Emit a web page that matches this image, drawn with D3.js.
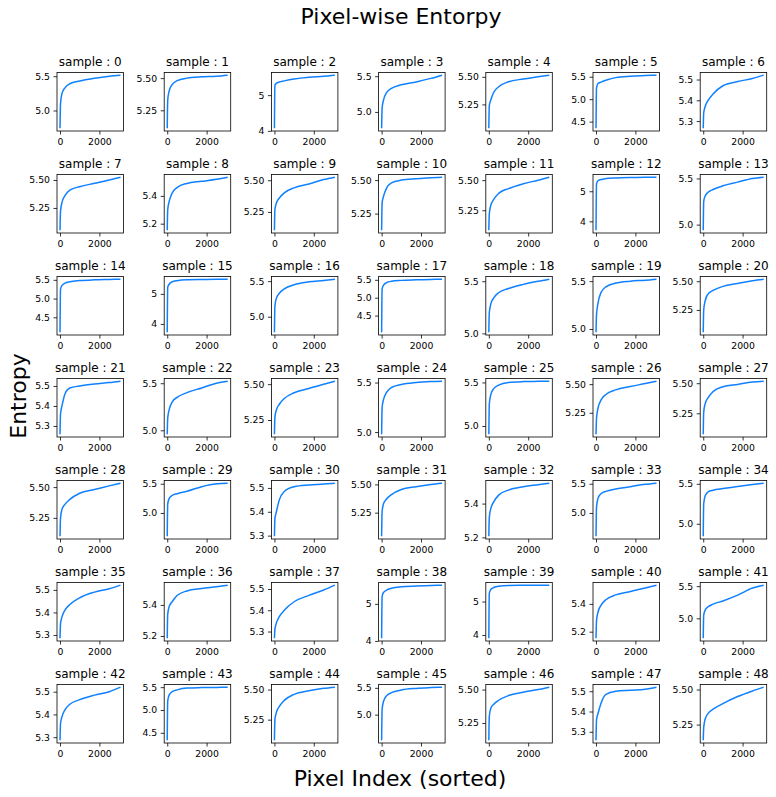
<!DOCTYPE html>
<html>
<head>
<meta charset="utf-8">
<script src="https://cdn.jsdelivr.net/npm/d3@7"></script>
<style>
  html, body { margin: 0; padding: 0; background: #fff; }
  text { font-family: "DejaVu Sans", sans-serif; }
</style>
</head>
<body>
<div id="chart"></div>
<script>
// ---- data ----
const nPixels = 3072;
const xIndex = [0, 25, 100, 250, 500, 1000, 1750, 2500, 3071];
const xTicks = [0, 2000];
const sampleIds = d3.range(49);

const entropy = [
  [4.74, 5.10, 5.25, 5.33, 5.39, 5.43, 5.47, 5.50, 5.515],
  [5.11, 5.33, 5.40, 5.45, 5.48, 5.50, 5.51, 5.515, 5.523],
  [4.07, 5.28, 5.33, 5.37, 5.40, 5.45, 5.50, 5.53, 5.56],
  [4.77, 5.05, 5.17, 5.27, 5.33, 5.38, 5.42, 5.47, 5.515],
  [5.033, 5.24, 5.29, 5.36, 5.41, 5.455, 5.48, 5.50, 5.515],
  [4.35, 5.25, 5.35, 5.38, 5.42, 5.48, 5.51, 5.525, 5.535],
  [5.265, 5.34, 5.37, 5.40, 5.43, 5.47, 5.49, 5.505, 5.521],
  [5.05, 5.22, 5.30, 5.36, 5.41, 5.44, 5.47, 5.50, 5.525],
  [5.152, 5.30, 5.36, 5.42, 5.46, 5.49, 5.505, 5.52, 5.535],
  [5.105, 5.27, 5.32, 5.36, 5.40, 5.44, 5.47, 5.505, 5.524],
  [5.125, 5.33, 5.38, 5.44, 5.48, 5.50, 5.51, 5.517, 5.522],
  [5.083, 5.22, 5.29, 5.34, 5.39, 5.43, 5.47, 5.50, 5.525],
  [3.70, 5.25, 5.35, 5.39, 5.42, 5.44, 5.455, 5.462, 5.468],
  [4.938, 5.25, 5.31, 5.35, 5.38, 5.42, 5.46, 5.50, 5.514],
  [4.098, 5.25, 5.35, 5.41, 5.45, 5.48, 5.50, 5.51, 5.518],
  [3.72, 5.22, 5.32, 5.40, 5.44, 5.47, 5.48, 5.485, 5.49],
  [4.78, 5.15, 5.26, 5.33, 5.39, 5.45, 5.49, 5.51, 5.528],
  [4.032, 5.25, 5.35, 5.42, 5.46, 5.485, 5.50, 5.51, 5.519],
  [5.01, 5.20, 5.28, 5.34, 5.39, 5.43, 5.47, 5.50, 5.52],
  [4.965, 5.15, 5.27, 5.38, 5.44, 5.48, 5.50, 5.51, 5.521],
  [5.055, 5.25, 5.33, 5.39, 5.42, 5.455, 5.48, 5.505, 5.518],
  [5.258, 5.36, 5.40, 5.46, 5.49, 5.50, 5.51, 5.517, 5.524],
  [4.957, 5.13, 5.22, 5.30, 5.35, 5.40, 5.45, 5.50, 5.522],
  [5.15, 5.27, 5.32, 5.36, 5.40, 5.44, 5.47, 5.50, 5.521],
  [4.977, 5.25, 5.33, 5.40, 5.45, 5.48, 5.50, 5.51, 5.514],
  [4.904, 5.25, 5.36, 5.43, 5.47, 5.50, 5.51, 5.513, 5.515],
  [5.062, 5.20, 5.29, 5.36, 5.41, 5.45, 5.48, 5.505, 5.526],
  [5.075, 5.26, 5.33, 5.38, 5.43, 5.47, 5.49, 5.51, 5.517],
  [5.10, 5.25, 5.32, 5.36, 5.40, 5.45, 5.48, 5.51, 5.532],
  [4.60, 5.15, 5.25, 5.30, 5.33, 5.37, 5.45, 5.50, 5.51],
  [5.297, 5.37, 5.40, 5.45, 5.485, 5.505, 5.512, 5.516, 5.52],
  [5.04, 5.26, 5.33, 5.37, 5.41, 5.455, 5.48, 5.50, 5.511],
  [5.206, 5.32, 5.37, 5.41, 5.45, 5.48, 5.50, 5.512, 5.521],
  [4.60, 5.10, 5.25, 5.33, 5.37, 5.41, 5.45, 5.49, 5.51],
  [4.843, 5.25, 5.35, 5.40, 5.42, 5.44, 5.465, 5.49, 5.508],
  [5.285, 5.35, 5.38, 5.41, 5.435, 5.465, 5.49, 5.505, 5.521],
  [5.185, 5.34, 5.39, 5.42, 5.46, 5.49, 5.505, 5.517, 5.527],
  [5.268, 5.31, 5.34, 5.37, 5.40, 5.44, 5.47, 5.495, 5.518],
  [4.07, 5.20, 5.31, 5.37, 5.42, 5.46, 5.48, 5.495, 5.505],
  [3.90, 5.25, 5.36, 5.42, 5.46, 5.48, 5.485, 5.488, 5.49],
  [5.152, 5.28, 5.34, 5.39, 5.43, 5.465, 5.49, 5.515, 5.535],
  [4.69, 5.05, 5.13, 5.18, 5.22, 5.27, 5.36, 5.47, 5.515],
  [5.286, 5.36, 5.39, 5.42, 5.445, 5.465, 5.485, 5.50, 5.52],
  [4.335, 5.20, 5.33, 5.40, 5.44, 5.48, 5.49, 5.495, 5.50],
  [5.078, 5.25, 5.31, 5.36, 5.41, 5.46, 5.49, 5.51, 5.52],
  [4.52, 5.10, 5.25, 5.35, 5.41, 5.46, 5.49, 5.505, 5.513],
  [5.12, 5.30, 5.36, 5.39, 5.42, 5.455, 5.48, 5.50, 5.518],
  [5.258, 5.36, 5.39, 5.44, 5.485, 5.50, 5.505, 5.51, 5.52],
  [5.138, 5.23, 5.29, 5.33, 5.36, 5.40, 5.45, 5.49, 5.517]
];

const yTickLabels = [
  ["5.0","5.5"], ["5.25","5.50"], ["4","5"], ["5.0","5.5"], ["5.25","5.50"], ["4.5","5.0","5.5"], ["5.3","5.4","5.5"],
  ["5.25","5.50"], ["5.2","5.4"], ["5.25","5.50"], ["5.25","5.50"], ["5.25","5.50"], ["4","5"], ["5.0","5.5"],
  ["4.5","5.0","5.5"], ["4","5"], ["5.0","5.5"], ["4.5","5.0","5.5"], ["5.0","5.5"], ["5.0","5.5"], ["5.25","5.50"],
  ["5.3","5.4","5.5"], ["5.0","5.5"], ["5.25","5.50"], ["5.0","5.5"], ["5.0","5.5"], ["5.25","5.50"], ["5.25","5.50"],
  ["5.25","5.50"], ["5.0","5.5"], ["5.3","5.4","5.5"], ["5.25","5.50"], ["5.2","5.4"], ["5.0","5.5"], ["5.0","5.5"],
  ["5.3","5.4","5.5"], ["5.2","5.4"], ["5.3","5.4","5.5"], ["4","5"], ["4","5"], ["5.2","5.4"], ["5.0","5.5"],
  ["5.3","5.4","5.5"], ["4.5","5.0","5.5"], ["5.25","5.50"], ["5.0","5.5"], ["5.25","5.50"], ["5.3","5.4","5.5"], ["5.25","5.50"]
];

const figTitle = "Pixel-wise Entorpy";
const xLabel = "Pixel Index (sorted)";
const yLabel = "Entropy";

// ---- layout ----
const W = 776, H = 797;
const nCols = 7;
const gridLeft = 57, colStep = 107.2, panelW = 66.5;
const gridTop = 72.5, rowStep = 102, panelH = 58.5;
const lineColor = "#0f80ff";

const svg = d3.select("#chart").append("svg")
  .attr("width", W).attr("height", H)
  .style("background", "#fff");

svg.append("rect").attr("width", W).attr("height", H).attr("fill", "#fff");

const x = d3.scaleLinear()
  .domain([-0.05 * (nPixels - 1), 1.05 * (nPixels - 1)])
  .range([0, panelW]);

sampleIds.forEach(i => {
  const r = Math.floor(i / nCols), c = i % nCols;
  const g = svg.append("g")
    .attr("transform", `translate(${gridLeft + c * colStep},${gridTop + r * rowStep})`);

  const vals = entropy[i];
  const ext = d3.extent(vals);
  const R = ext[1] - ext[0];
  const y = d3.scaleLinear()
    .domain([ext[0] - 0.05 * R, ext[1] + 0.05 * R])
    .range([panelH, 0]);

  const labels = yTickLabels[i];
  const tv = labels.map(Number);

  const yAxis = g.append("g")
    .call(d3.axisLeft(y).tickValues(tv).tickFormat((d, k) => labels[k])
      .tickSize(3.5).tickPadding(3.5));
  const xAxis = g.append("g")
    .attr("transform", `translate(0,${panelH})`)
    .call(d3.axisBottom(x).tickValues(xTicks).tickFormat(d3.format("d"))
      .tickSize(3.5).tickPadding(3.5));
  [yAxis, xAxis].forEach(a => {
    a.select(".domain").remove();
    a.selectAll("line").attr("stroke", "#000").attr("stroke-width", 0.8);
    a.selectAll("text").attr("fill", "#000")
      .style("font-family", "'DejaVu Sans', sans-serif").style("font-size", "9.3px");
  });

  const line = d3.line()
    .x((d, j) => x(xIndex[j]))
    .y(d => y(d))
    .curve(d3.curveMonotoneX);

  g.append("path")
    .datum(vals)
    .attr("d", line)
    .attr("fill", "none")
    .attr("stroke", lineColor)
    .attr("stroke-width", 1.5)
    .attr("stroke-linejoin", "round");

  g.append("rect")
    .attr("width", panelW).attr("height", panelH)
    .attr("fill", "none").attr("stroke", "#000").attr("stroke-width", 0.8);

  g.append("text")
    .attr("x", panelW / 2).attr("y", -6.5)
    .attr("text-anchor", "middle")
    .style("font-size", "12px")
    .attr("fill", "#000")
    .text(`sample : ${i}`);
});

svg.append("text")
  .attr("x", 401).attr("y", 24)
  .attr("text-anchor", "middle")
  .style("font-size", "22px")
  .attr("fill", "#000")
  .text(figTitle);

svg.append("text")
  .attr("x", 400).attr("y", 786)
  .attr("text-anchor", "middle")
  .style("font-size", "22px")
  .attr("fill", "#000")
  .text(xLabel);

svg.append("text")
  .attr("transform", "translate(26,396) rotate(-90)")
  .attr("text-anchor", "middle")
  .style("font-size", "22px")
  .attr("fill", "#000")
  .text(yLabel);
</script>
</body>
</html>
